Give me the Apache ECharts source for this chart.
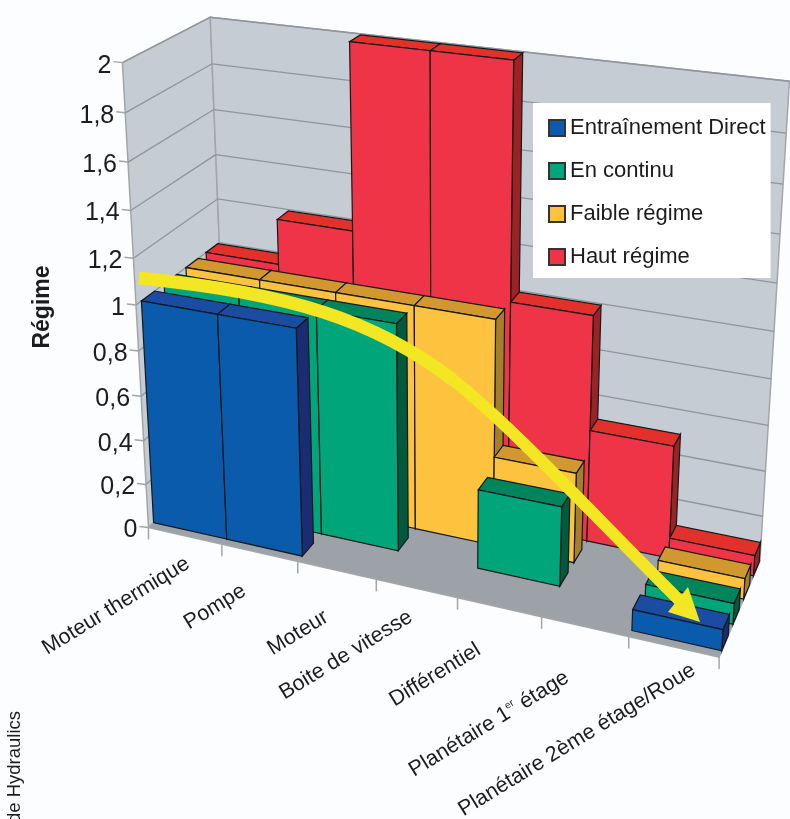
<!DOCTYPE html>
<html>
<head>
<meta charset="utf-8">
<style>html,body{margin:0;padding:0;background:#fbfdfe}#main{width:790px;height:819px}</style>
<script src="https://cdn.jsdelivr.net/npm/echarts@6/dist/echarts.min.js"></script>
</head>
<body>
<div id="main"></div>
<script>
var categories = ['Moteur thermique', 'Pompe', 'Moteur', 'Boite de vitesse', 'Différentiel', 'Planétaire 1er étage', 'Planétaire 2ème étage/Roue'];
var direct = [1, 1, 0, 0, 0, 0, 0.09];
var continu = [1, 1, 1, 0, 0.35, 0, 0.09];
var faible = [1, 1, 1, 1, 0.4, 0, 0.09];
var haut = [1, 1.2, 2, 2, 1, 0.5, 0.09];
var yTicks = [0, 0.2, 0.4, 0.6, 0.8, 1, 1.2, 1.4, 1.6, 1.8, 2];
var FONT = '"Liberation Sans", Arial, sans-serif';

// perspective of the photographed box: [u, depth, height] -> pixel, fitted on wall corners and ticks
var calib = [
    [0, 0, 0, 148, 528], [1 / 7, 0, 0, 223, 545], [2 / 7, 0, 0, 299, 563], [5 / 7, 0, 0, 541, 617],
    [6 / 7, 0, 0, 628, 637], [1, 0, 0, 719, 655], [0, 1, 0, 227, 448], [1, 1, 0, 760, 562],
    [0, 0, 1, 122, 62], [0, 1, 1, 210.7, 18], [1, 1, 1, 789, 81], [0, 0, 0.5, 136, 304],
    [0, 1, 0.5, 219, 244], [1, 1, 0.5, 775, 331]
];
function fitProjection(pts) {
    var n = 11, A = [], i, j, k;
    for (i = 0; i < n; i++) { A.push(new Array(n + 1).fill(0)); }
    pts.forEach(function (p) {
        var rows = [
            [p[0], p[1], p[2], 1, 0, 0, 0, 0, -p[3] * p[0], -p[3] * p[1], -p[3] * p[2], p[3]],
            [0, 0, 0, 0, p[0], p[1], p[2], 1, -p[4] * p[0], -p[4] * p[1], -p[4] * p[2], p[4]]
        ];
        rows.forEach(function (r) {
            for (i = 0; i < n; i++) { for (j = 0; j <= n; j++) { A[i][j] += r[i] * r[j]; } }
        });
    });
    for (i = 0; i < n; i++) {
        var best = i;
        for (k = i + 1; k < n; k++) { if (Math.abs(A[k][i]) > Math.abs(A[best][i])) { best = k; } }
        var t = A[i]; A[i] = A[best]; A[best] = t;
        for (k = 0; k < n; k++) {
            if (k === i) { continue; }
            var f = A[k][i] / A[i][i];
            for (j = i; j <= n; j++) { A[k][j] -= f * A[i][j]; }
        }
    }
    return A.map(function (r, idx) { return r[n] / r[idx]; });
}
var P = fitProjection(calib);
function project(u, w, v) {
    var d = P[8] * u + P[9] * w + P[10] * v + 1;
    return [(P[0] * u + P[1] * w + P[2] * v + P[3]) / d, (P[4] * u + P[5] * w + P[6] * v + P[7]) / d];
}

// hidden grid: it only turns category index / value into u and height through the axes
var GRID = 700;
function toBox(api, x, val) {
    var c = api.coord([x, val]);
    return [c[0] / GRID, (GRID - c[1]) / GRID];
}
function poly(pts, fill, stroke, lw) {
    return { type: 'polygon', shape: { points: pts }, style: { fill: fill, stroke: stroke || 'none', lineWidth: lw || 0 } };
}
function seg(a, b, color, lw) {
    return { type: 'line', shape: { x1: a[0], y1: a[1], x2: b[0], y2: b[1] }, style: { stroke: color, lineWidth: lw } };
}

function barSeries(name, values, depth, front, top, side, z) {
    var w0 = depth, w1 = depth + 0.15;
    return {
        name: name,
        type: 'custom',
        coordinateSystem: 'cartesian2d',
        clip: false,
        z: z,
        itemStyle: { color: front, borderColor: '#333', borderWidth: 1.5 },
        data: values.map(function (v, i) { return [i, v]; }),
        renderItem: function (params, api) {
            var i = api.value(0), val = api.value(1);
            if (!val) { return null; }
            var a = toBox(api, i, val), b = toBox(api, i + 1, 0);
            var u0 = a[0], u1 = b[0], h = a[1];
            var line = '#15181c';
            return {
                type: 'group',
                children: [
                    poly([project(u1, w0, 0), project(u1, w1, 0), project(u1, w1, h), project(u1, w0, h)], side, line, 1.2),
                    poly([project(u0, w0, h), project(u1, w0, h), project(u1, w1, h), project(u0, w1, h)], top, line, 1.2),
                    poly([project(u0, w0, 0), project(u1, w0, 0), project(u1, w0, h), project(u0, w0, h)], front, line, 1.2)
                ]
            };
        }
    };
}

var wallSeries = {
    type: 'custom',
    coordinateSystem: 'cartesian2d',
    clip: false,
    z: 1,
    data: yTicks.map(function (t) { return [0, t]; }),
    renderItem: function (params, api) {
        var val = api.value(1), h = toBox(api, 0, val)[1];
        var kids = [];
        var gridCol = '#8e959c', axisCol = '#a3a6a9';
        if (params.dataIndex === 0) {
            kids.push(poly([project(0, 0, 0), project(0, 1, 0), project(0, 1, 1), project(0, 0, 1)], '#c5ccd3', axisCol, 1.5));
            kids.push(poly([project(0, 1, 0), project(1, 1, 0), project(1, 1, 1), project(0, 1, 1)], '#c5ccd3', axisCol, 1.5));
            kids.push(poly([project(0, 0, 0), project(1, 0, 0), project(1, 1, 0), project(0, 1, 0)], '#9ca2a8', axisCol, 1.5));
            for (var k = 0; k <= categories.length; k++) {
                var p = project(k / categories.length, 0, 0);
                kids.push(seg(p, [p[0], p[1] + 12], axisCol, 1.5));
            }
        }
        if (val > 0) {
            kids.push(seg(project(0, 0, h), project(0, 1, h), gridCol, 1.3));
            kids.push(seg(project(0, 1, h), project(1, 1, h), gridCol, 1.3));
        }
        var e = project(0, 0, h);
        kids.push(seg(e, [e[0] - 9, e[1] - 1], axisCol, 1.5));
        kids.push({
            type: 'text', x: e[0] - 11, y: e[1] + 3,
            style: {
                text: String(val).replace('.', ','), fontSize: 25, fontFamily: FONT, fill: '#1c1c1c',
                align: 'right', verticalAlign: 'middle'
            }
        });
        return { type: 'group', children: kids };
    }
};

// label centres read on the picture, they are not regular
var labelAt = [[116, 606], [215, 607], [298, 633], [346, 655], [435, 675], [489, 724], [577, 740]];
var labelEls = categories.map(function (c, i) {
    return {
        type: 'text', x: labelAt[i][0], y: labelAt[i][1], rotation: 0.55, z: 5,
        style: {
            text: c.replace('1er', '1{sup|er}'), fontSize: 21.5, fontFamily: FONT, fill: '#1c1c1c',
            align: 'center', verticalAlign: 'middle',
            rich: { sup: { fontSize: 10, fontFamily: FONT, fill: '#1c1c1c', verticalAlign: 'top' } }
        }
    };
});

var arrowEls = [
    { type: 'bezierCurve', z: 20, shape: { x1: 139, y1: 278, cpx1: 290, cpy1: 293, cpx2: 375, cpy2: 320, x2: 453, y2: 380 },
      style: { stroke: '#f3e622', lineWidth: 13, fill: 'none' } },
    { type: 'bezierCurve', z: 20, shape: { x1: 453, y1: 380, cpx1: 510, cpy1: 424, cpx2: 600, cpy2: 522, x2: 682, y2: 603 },
      style: { stroke: '#f3e622', lineWidth: 12, fill: 'none' } },
    { type: 'polygon', z: 20, shape: { points: [[688, 587], [700, 622], [668, 612]] }, style: { fill: '#f3e622' } }
];

var textEls = [
    { type: 'text', x: 43, y: 307, rotation: Math.PI / 2, z: 5,
      style: { text: 'Régime', fontSize: 23, fontWeight: 'bold', fontFamily: FONT, fill: '#1c1c1c', align: 'center', verticalAlign: 'middle' } },
    { type: 'text', x: 15, y: 823, rotation: Math.PI / 2, z: 5,
      style: { text: 'de Hydraulics', fontSize: 18.5, fontFamily: FONT, fill: '#1c1c1c', align: 'left', verticalAlign: 'middle' } }
];

var myChart = echarts.init(document.getElementById('main'));
var option = {
    animation: false,
    backgroundColor: '#fbfdfe',
    grid: { left: 0, top: 0, width: GRID, height: GRID, show: false },
    xAxis: { type: 'value', min: 0, max: categories.length, show: false },
    yAxis: { type: 'value', min: 0, max: 2, show: false },
    legend: {
        left: 533, top: 103,
        orient: 'vertical',
        backgroundColor: '#ffffff',
        padding: [14, 5, 10, 15],
        itemWidth: 16, itemHeight: 16, itemGap: 21,
        icon: 'rect',
        selectedMode: false,
        z: 15,
        textStyle: { fontSize: 22, fontFamily: FONT, color: '#1c1c1c' },
        data: ['Entraînement Direct', 'En continu', 'Faible régime', 'Haut régime']
    },
    graphic: { elements: labelEls.concat(arrowEls, textEls) },
    series: [
        wallSeries,
        barSeries('Haut régime', haut, 0.83, '#ee3446', '#e2302b', '#9c2323', 2),
        barSeries('Faible régime', faible, 0.58, '#fdc33e', '#d0982f', '#a67f2a', 3),
        barSeries('En continu', continu, 0.32, '#00a67a', '#00845b', '#005a3b', 4),
        barSeries('Entraînement Direct', direct, 0.06, '#0a5bab', '#1a4da2', '#1b2d72', 5)
    ]
};
myChart.setOption(option);
</script>
</body>
</html>
